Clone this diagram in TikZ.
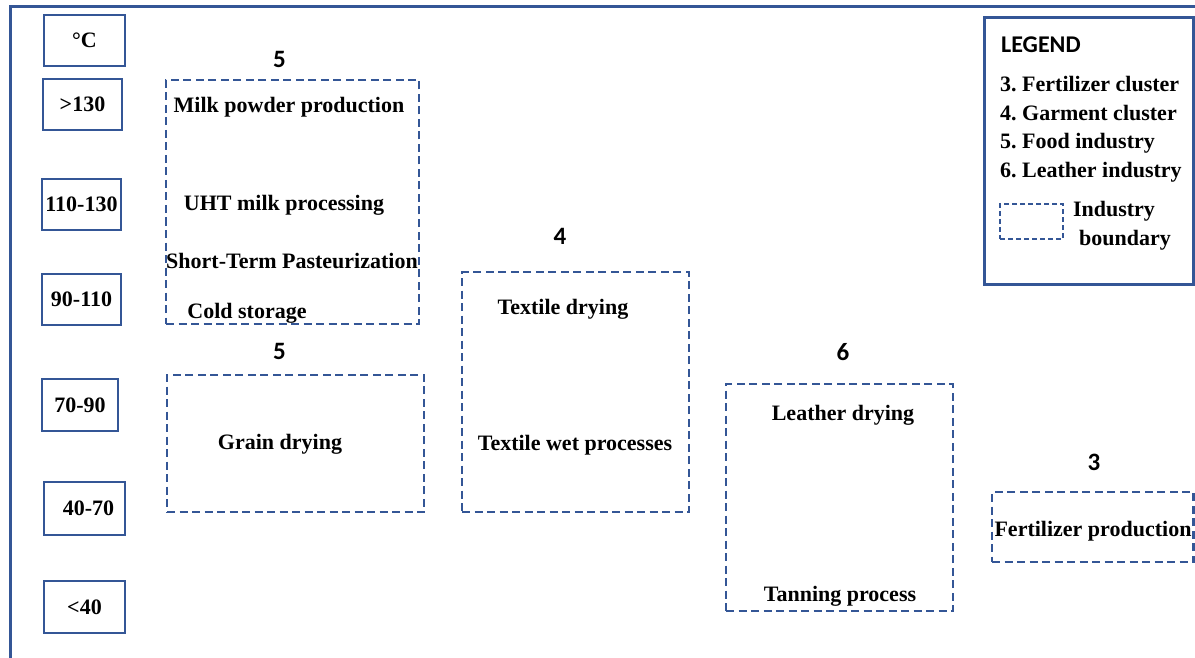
\documentclass[tikz,border=0pt]{standalone}
\usepackage{fontspec}
\setmainfont{Liberation Serif}
\newfontfamily\numfont{Carlito}
\definecolor{frameblue}{RGB}{52,86,150}
\frenchspacing
\begin{document}
\begin{tikzpicture}[x=1pt,y=-1pt,
  lbl/.style={font=\bfseries\fontsize{22}{26}\selectfont, inner sep=0pt, anchor=base},
  num/.style={font=\numfont\bfseries\fontsize{25}{28}\selectfont, inner sep=0pt, anchor=base},
  tbox/.style={draw=frameblue, line width=2pt, inner sep=1pt, font=\bfseries\fontsize{22}{26}\selectfont},
  dbox/.style={draw=frameblue, line width=2.6pt, dash pattern=on 8pt off 4.5pt, inner sep=0pt},
  legbox/.style={draw=frameblue, line width=3pt, inner sep=0pt}]
\useasboundingbox (0,0) rectangle (1195,658);
% outer frame
\coordinate (fbl) at (10.5,658);
\coordinate (ftl) at (10.5,7);
\coordinate (ftr) at (1195,7);
\draw[frameblue, line width=3pt] (fbl) -- (ftl) -- (ftr);
% temperature scale
\node[tbox, minimum width=81pt, minimum height=51pt] (tC) at (84.5,40.5) {°C};
\node[tbox, minimum width=79pt, minimum height=51pt] (t1) at (82.5,104.5) {>130};
\node[tbox, minimum width=79pt, minimum height=51pt] (t2) at (81.5,204.5) {110-130};
\node[tbox, minimum width=79pt, minimum height=51pt] (t3) at (81.5,299.5) {90-110};
\node[tbox, minimum width=76pt, minimum height=52pt] (t4) at (80,405) {70-90};
\node[tbox, minimum width=81pt, minimum height=53pt] (t5) at (84.5,508.5) {\hspace*{8pt}40-70};
\node[tbox, minimum width=81pt, minimum height=52pt] (t6) at (84.5,607) {<40};
% food industry
\node[num] (n5a) at (279.5,68) {5};
\node[dbox, minimum width=253pt, minimum height=244pt] (food) at (292.5,202) {};
\node[lbl] (milk) at (289,113) {Milk powder production};
\node[lbl] (uht) at (284,211) {UHT milk processing};
\node[lbl] (stp) at (292,268) {Short-Term Pasteurization};
\node[lbl] (cold) at (247,318) {Cold storage};
\node[num] (n5b) at (279.5,359) {5};
\node[dbox, minimum width=257pt, minimum height=137pt] (grain) at (295.5,443.5) {};
\node[lbl] (graint) at (280,449) {Grain drying};
% garment cluster
\node[num] (n4) at (560,244) {4};
\node[dbox, minimum width=227pt, minimum height=240pt] (textile) at (575.5,392) {};
\node[lbl] (tdry) at (563,314) {Textile drying};
\node[lbl] (twet) at (575,450) {Textile wet processes};
% leather industry
\node[num] (n6) at (843,360) {6};
\node[dbox, minimum width=227pt, minimum height=227pt] (leather) at (839.5,497.5) {};
\node[lbl] (ldry) at (843,420) {Leather drying};
\node[lbl] (tan) at (840,601) {Tanning process};
% fertilizer cluster
\node[num] (n3) at (1094,470) {3};
\node[dbox, minimum width=201.5pt, minimum height=70pt] (fert) at (1092.75,527) {};
\node[lbl] (fertt) at (1093,536) {Fertilizer production};
% legend
\node[legbox, minimum width=209.5pt, minimum height=266pt] (legend) at (1088.75,151) {};
\node[num, font=\numfont\bfseries\fontsize{24}{28}\selectfont, anchor=base west] (legt) at (1001,53) {LEGEND};
\node[lbl, anchor=base west] (l3) at (1000,92) {3. Fertilizer cluster};
\node[lbl, anchor=base west] (l4) at (1000,120.5) {4. Garment cluster};
\node[lbl, anchor=base west] (l5) at (1000,149) {5. Food industry};
\node[lbl, anchor=base west] (l6) at (1000,177.5) {6. Leather industry};
\node[draw=frameblue, line width=1.6pt, dash pattern=on 5pt off 3pt, inner sep=0pt, minimum width=63pt, minimum height=35pt] (lbox) at (1031.5,221.5) {};
\node[lbl] (lind) at (1114,217) {Industry};
\node[lbl] (lbnd) at (1125,245) {boundary};
\end{tikzpicture}
\end{document}
